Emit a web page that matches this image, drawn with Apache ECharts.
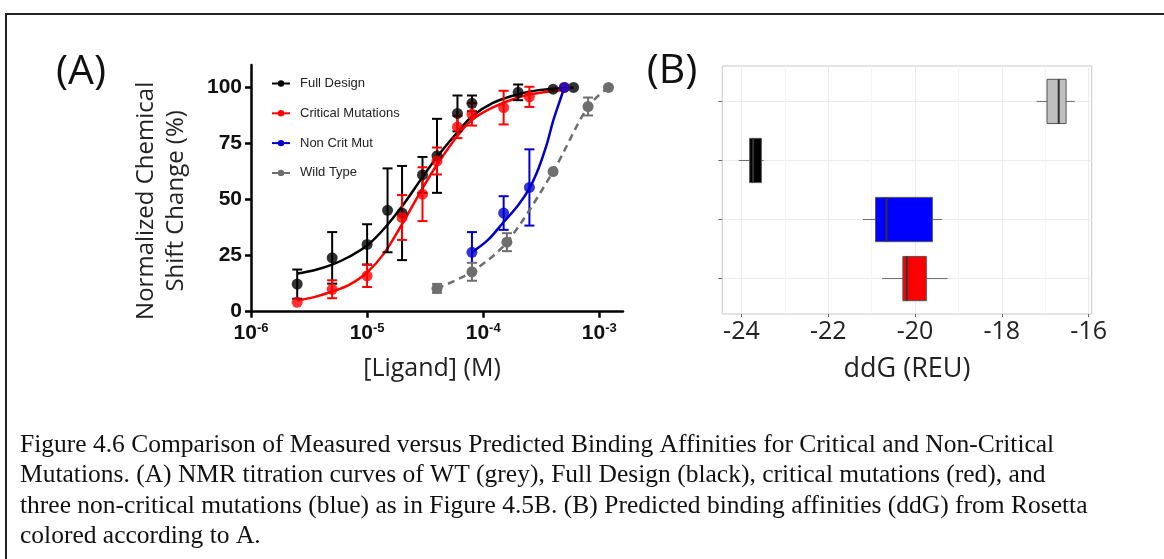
<!DOCTYPE html>
<html><head><meta charset="utf-8">
<script src="https://cdn.jsdelivr.net/npm/echarts@6/dist/echarts.min.js"></script>
<style>html,body{margin:0;padding:0;background:#fff}#c{width:1164px;height:559px}</style>
</head><body><div id="c"></div>
<script>
// ---------- Panel A data ----------
const legendNames = ['Full Design', 'Critical Mutations', 'Non Crit Mut', 'Wild Type'];
const xTickValues = [1e-6, 1e-5, 1e-4, 1e-3];
const yTickValues = [0, 25, 50, 75, 100];

// measured points: concentration (M), mean (%), error (+/-)
const fullConc = [2.5e-6, 5e-6, 1e-5, 1.5e-5, 2e-5, 3e-5, 4e-5, 6e-5, 8e-5, 2e-4, 4e-4, 6e-4];
const fullMean = [12.3, 24, 30, 45.2, 44, 61, 69.5, 88.4, 92.9, 97.8, 99.2, 100];
const fullErr  = [6.5, 11.5, 9, 18.7, 21, 8, 16.5, 8, 3.5, 3.5, 0, 0];

const critConc = [2.5e-6, 5e-6, 1e-5, 2e-5, 3e-5, 4e-5, 6e-5, 8e-5, 1.5e-4, 2.5e-4, 5e-4];
const critMean = [4.2, 10, 16, 42, 52.4, 67.2, 82.4, 88, 91, 95.8, 100];
const critErr  = [0, 4, 5, 10, 12, 6, 5, 5, 7.5, 4.5, 0];

const nonConc = [8e-5, 1.5e-4, 2.5e-4, 5e-4];
const nonMean = [26.5, 44, 55.4, 100];
const nonErr  = [9, 7.5, 17, 0];

const wtConc = [4e-5, 8e-5, 1.6e-4, 4e-4, 8e-4, 1.2e-3];
const wtMean = [10.4, 17.8, 31, 62.5, 91.5, 100];
const wtErr  = [2, 4, 4, 0, 4, 0];

// fitted curves
const fullCurveConc = [2.5e-6, 3.5e-6, 5e-6, 7e-6, 1e-5, 1.4e-5, 2e-5, 3e-5, 4e-5, 6e-5, 8e-5, 1.2e-4, 2e-4, 3e-4, 6e-4];
const fullCurveVal  = [17, 18.5, 21, 24.5, 29.5, 37, 47, 60, 69, 80, 87, 93, 97, 98.8, 100];
const critCurveConc = [2.5e-6, 3.5e-6, 5e-6, 7e-6, 1e-5, 1.4e-5, 2e-5, 3e-5, 4e-5, 6e-5, 8e-5, 1.2e-4, 2e-4, 3e-4, 5e-4];
const critCurveVal  = [5, 6.5, 9, 12, 17.5, 26, 39, 55, 65.5, 78.5, 85.5, 91, 95.5, 97.5, 98.8];
const nonCurveConc  = [8e-5, 1.1e-4, 1.5e-4, 2e-4, 2.5e-4, 3e-4, 3.5e-4, 4e-4, 4.5e-4, 5e-4];
const nonCurveVal   = [26.5, 32, 40, 47.5, 55, 64, 74, 85, 93, 100];

// ---------- Panel B data ----------
const boxGroups = ['Critical Mutations', 'Non Crit Mut', 'Full Design', 'Wild Type']; // bottom to top
const boxLow    = [-20.76, -21.20, -24.06, -17.20];
const boxQ1     = [-20.28, -20.91, -23.81, -16.96];
const boxMedian = [-20.19, -20.66, -23.73, -16.69];
const boxQ3     = [-19.74, -19.60, -23.54, -16.52];
const boxHigh   = [-19.25, -19.38, -23.49, -16.32];
const ddgTicks  = [-24, -22, -20, -18, -16];
const ddgMinor  = [-23, -21, -19, -17];

const captionLines = [
  'Figure 4.6 Comparison of Measured versus Predicted Binding Affinities for Critical and Non-Critical',
  'Mutations. (A) NMR titration curves of WT (grey), Full Design (black), critical mutations (red), and',
  'three non-critical mutations (blue) as in Figure 4.5B. (B) Predicted binding affinities (ddG) from Rosetta',
  'colored according to A.'
];

// ---------- styles ----------
const COL = {full: '#000000', crit: '#ff0000', non: '#0000cc', wt: '#6e6e6e'};
const boxFill = ['#ff0000', '#0000ff', '#000000', '#bfbfbf'];

function pairs(xs, ys) { return xs.map((x, i) => [x, ys[i]]); }
function triples(xs, ys, es) { return xs.map((x, i) => [x, ys[i], es[i]]); }

function errRender(color) {
  return function (params, api) {
    const x = api.value(0), y = api.value(1), e = api.value(2);
    if (!e) return null;
    const t = api.coord([x, y + e]), b = api.coord([x, y - e]);
    const hw = 5;
    const st = {stroke: color, lineWidth: 2};
    return {type: 'group', children: [
      {type: 'line', shape: {x1: t[0], y1: t[1], x2: b[0], y2: b[1]}, style: st},
      {type: 'line', shape: {x1: t[0] - hw, y1: t[1], x2: t[0] + hw, y2: t[1]}, style: st},
      {type: 'line', shape: {x1: b[0] - hw, y1: b[1], x2: b[0] + hw, y2: b[1]}, style: st}
    ]};
  };
}

function boxRender(params, api) {
  const yv = api.value(0);
  const lo = api.coord([api.value(1), yv]);
  const q1 = api.coord([api.value(2), yv]);
  const md = api.coord([api.value(3), yv]);
  const q3 = api.coord([api.value(4), yv]);
  const hi = api.coord([api.value(5), yv]);
  const h = api.size([0, 0.75])[1];
  return {type: 'group', children: [
    {type: 'line', shape: {x1: lo[0], y1: lo[1], x2: hi[0], y2: hi[1]}, style: {stroke: '#6a6a6a', lineWidth: 1}},
    {type: 'rect', shape: {x: q1[0], y: q1[1] - h / 2, width: q3[0] - q1[0], height: h},
      style: {fill: boxFill[params.dataIndex], stroke: '#555555', lineWidth: 1}},
    {type: 'line', shape: {x1: md[0], y1: md[1] - h / 2, x2: md[0], y2: md[1] + h / 2}, style: {stroke: '#333333', lineWidth: 2}}
  ]};
}

const chart = echarts.init(document.getElementById('c'), null, {renderer: 'canvas', width: 1164, height: 559});

const lineBase = (name, data, color, extra) => Object.assign({
  name: name, type: 'line', xAxisIndex: 0, yAxisIndex: 0, data: data,
  smooth: 0.35, symbol: 'circle', showSymbol: false, symbolSize: 11,
  lineStyle: {color: color, width: 2.5}, itemStyle: {color: color}, z: 3, silent: true
}, extra || {});

const scatterBase = (name, data, color) => ({
  name: name, type: 'scatter', xAxisIndex: 0, yAxisIndex: 0, data: data,
  symbol: 'circle', symbolSize: 11, itemStyle: {color: color}, z: 5, silent: true
});

const errBase = (name, data, color) => ({
  name: name, type: 'custom', xAxisIndex: 0, yAxisIndex: 0, data: data,
  renderItem: errRender(color), encode: {x: 0, y: 1}, z: 4, silent: true
});

const option = {
  animation: false,
  backgroundColor: '#ffffff',
  legend: {
    data: legendNames, orient: 'vertical', left: 266, top: 72,
    itemWidth: 18, itemHeight: 8, itemGap: 16.8, selectedMode: false,
    textStyle: {fontFamily: 'Liberation Sans', fontSize: 13, color: '#222', padding: [0, 0, 0, 5]}
  },
  grid: [
    {left: 251, top: 65, width: 372, height: 246.7, containLabel: false, outerBoundsMode: 'none'},
    {left: 722.3, top: 66, width: 369.4, height: 248, containLabel: false, outerBoundsMode: 'none',
      show: true, borderColor: '#c8c8c8', borderWidth: 1}
  ],
  xAxis: [
    {
      type: 'log', logBase: 10, gridIndex: 0, min: 1e-6, max: 1.6e-3,
      axisLine: {onZero: false, lineStyle: {color: '#000', width: 2.5}},
      axisTick: {customValues: xTickValues, length: 6, lineStyle: {color: '#000', width: 2.5}},
      minorTick: {show: false}, splitLine: {show: false},
      axisLabel: {
        customValues: xTickValues, margin: 10,
        formatter: v => '{b|10}{s|' + Math.round(Math.log10(v)) + '}',
        rich: {
          b: {fontFamily: 'Liberation Sans', fontWeight: 'bold', fontSize: 21, color: '#111', lineHeight: 24},
          s: {fontFamily: 'Liberation Sans', fontWeight: 'bold', fontSize: 13, color: '#111', verticalAlign: 'top', lineHeight: 14}
        }
      },
      name: '[Ligand] (M)', nameLocation: 'middle', nameGap: 45,
      nameTextStyle: {fontFamily: 'Open Sans', fontSize: 25, color: '#222', padding: [0, 10, 0, 0]}
    },
    {
      type: 'value', gridIndex: 1, min: -24.44, max: -15.93,
      axisLine: {show: false, onZero: false},
      axisTick: {customValues: ddgTicks, length: 3, lineStyle: {color: '#666'}},
      splitLine: {show: true, lineStyle: {color: '#ebebeb', width: 1}},
      axisLabel: {customValues: ddgTicks, margin: 5, fontFamily: 'Open Sans', fontSize: 25, color: '#222'},
      name: 'ddG (REU)', nameLocation: 'middle', nameGap: 42,
      nameTextStyle: {fontFamily: 'Open Sans', fontSize: 27, color: '#222'}
    }
  ],
  yAxis: [
    {
      type: 'value', gridIndex: 0, min: 0, max: 110,
      axisLine: {onZero: false, lineStyle: {color: '#000', width: 2.5}},
      axisTick: {customValues: yTickValues, length: 6, lineStyle: {color: '#000', width: 2.5}},
      splitLine: {show: false},
      axisLabel: {customValues: yTickValues, margin: 9, fontFamily: 'Liberation Sans', fontWeight: 'bold', fontSize: 21, color: '#111'},
      name: 'Normalized Chemical\nShift Change (%)', nameLocation: 'middle', nameRotate: 90, nameGap: 60,
      nameTextStyle: {fontFamily: 'Open Sans', fontSize: 24, lineHeight: 30, color: '#222', padding: [0, 25, 0, 0]}
    },
    {
      type: 'value', gridIndex: 1, min: 0.4, max: 4.6,
      axisLine: {show: false, onZero: false},
      axisTick: {customValues: [1, 2, 3, 4], length: 4, lineStyle: {color: '#666'}},
      axisLabel: {show: false},
      splitLine: {show: true, lineStyle: {color: '#ebebeb', width: 1}}
    }
  ],
  series: [
    lineBase('Full Design', pairs(fullCurveConc, fullCurveVal), COL.full),
    lineBase('Critical Mutations', pairs(critCurveConc, critCurveVal), COL.crit),
    lineBase('Non Crit Mut', pairs(nonCurveConc, nonCurveVal), COL.non),
    lineBase('Wild Type', pairs(wtConc, wtMean), COL.wt, {
      showSymbol: true, smooth: 0.3, lineStyle: {color: COL.wt, width: 2.5, type: [7, 5]}, z: 5
    }),
    errBase('Full Design err', triples(fullConc, fullMean, fullErr), COL.full),
    errBase('Critical Mutations err', triples(critConc, critMean, critErr), COL.crit),
    errBase('Non Crit Mut err', triples(nonConc, nonMean, nonErr), COL.non),
    errBase('Wild Type err', triples(wtConc, wtMean, wtErr), COL.wt),
    scatterBase('Full Design pts', pairs(fullConc, fullMean), COL.full),
    scatterBase('Critical Mutations pts', pairs(critConc, critMean), COL.crit),
    scatterBase('Non Crit Mut pts', pairs(nonConc, nonMean), COL.non),
    {
      name: 'ddG', type: 'custom', xAxisIndex: 1, yAxisIndex: 1,
      data: boxGroups.map((g, i) => [i + 1, boxLow[i], boxQ1[i], boxMedian[i], boxQ3[i], boxHigh[i]]),
      encode: {x: [1, 2, 3, 4, 5], y: 0}, renderItem: boxRender, z: 3, silent: true,
      markLine: {
        silent: true, symbol: 'none', label: {show: false}, z: 1,
        lineStyle: {color: '#f4f4f4', width: 1, type: 'solid'},
        data: ddgMinor.map(v => ({xAxis: v}))
      }
    }
  ],
  graphic: [
    {type: 'line', shape: {x1: 5, y1: 14, x2: 1164, y2: 14}, style: {stroke: '#222', lineWidth: 2}},
    {type: 'line', shape: {x1: 6, y1: 13, x2: 6, y2: 559}, style: {stroke: '#222', lineWidth: 2}},
    {type: 'text', x: 81, y: 72, style: {text: '(A)', font: '41px "Open Sans"', fill: '#111', align: 'center', verticalAlign: 'middle'}},
    {type: 'text', x: 672, y: 71, style: {text: '(B)', font: '41px "Open Sans"', fill: '#111', align: 'center', verticalAlign: 'middle'}}
  ].concat(captionLines.map((t, i) => ({
    type: 'text', x: 20, y: 445 + i * 30.5,
    style: {text: t, font: '25.5px "Liberation Serif"', fill: '#111', align: 'left', verticalAlign: 'middle'}
  })))
};
chart.setOption(option);
</script>
</body></html>
